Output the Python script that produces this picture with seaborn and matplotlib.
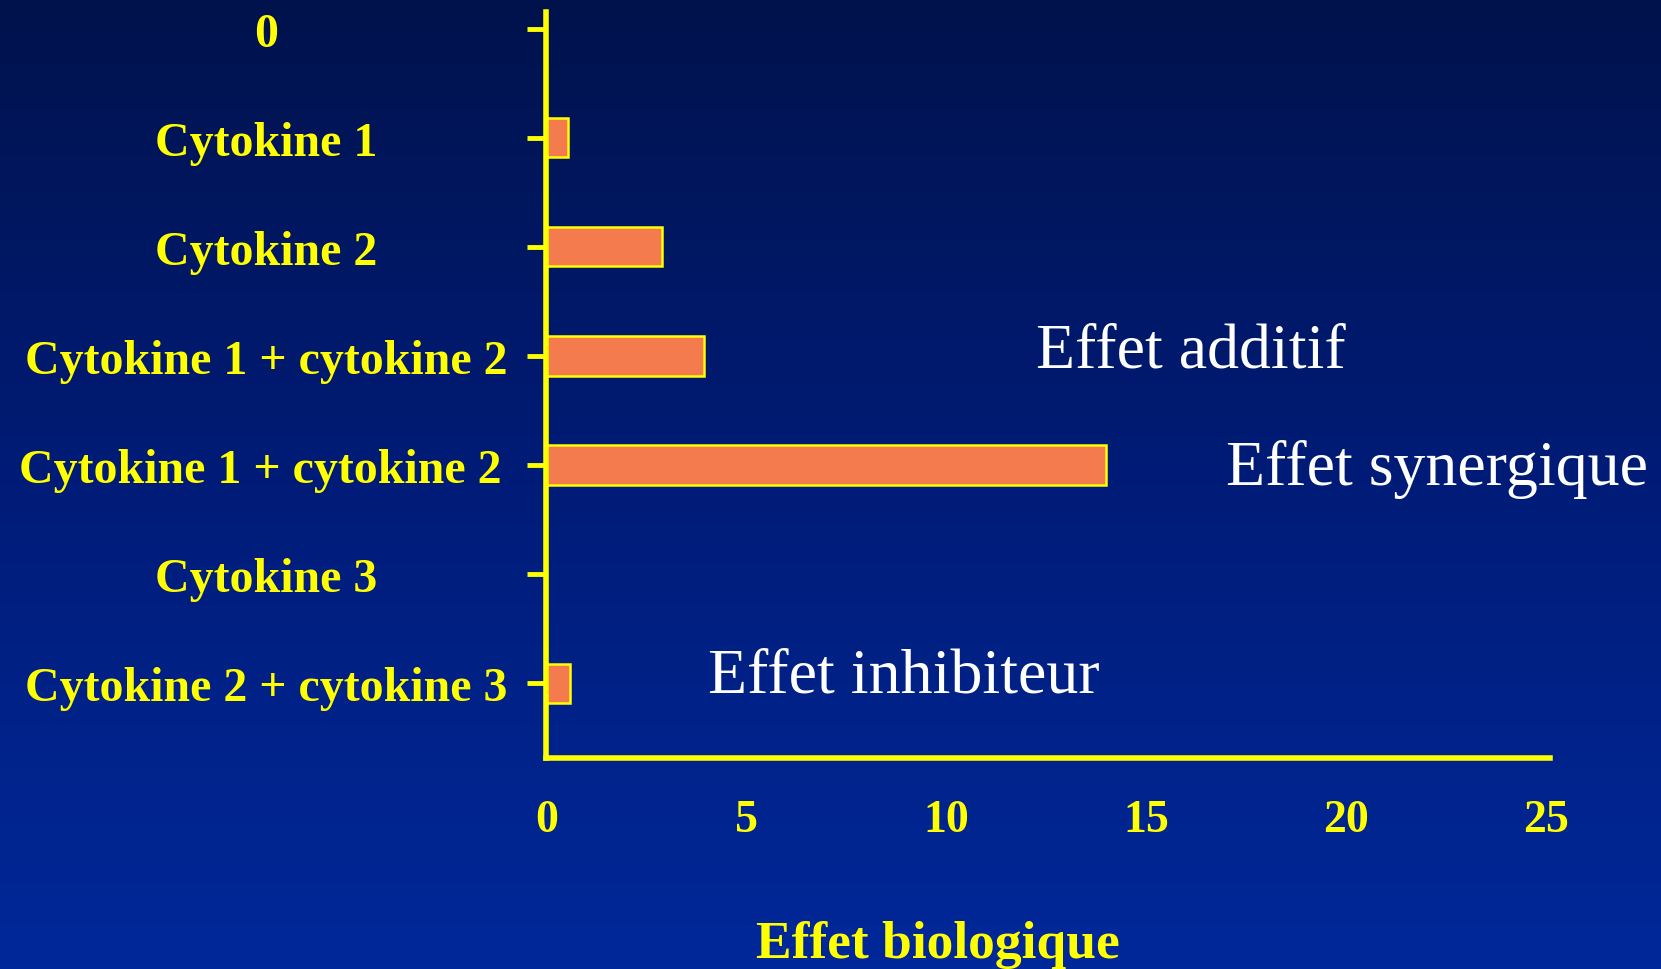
import numpy as np
import pandas as pd
import matplotlib
matplotlib.use("Agg")
import matplotlib.pyplot as plt
import seaborn as sns
from matplotlib.colors import LinearSegmentedColormap

# data
categories = ["0", "Cytokine 1", "Cytokine 2", "Cytokine 1 + cytokine 2",
              "Cytokine 1 + cytokine 2 ", "Cytokine 3", "Cytokine 2 + cytokine 3"]
effet = [0, 0.55, 2.9, 3.95, 14.0, 0, 0.6]
x_ticks = [0, 5, 10, 15, 20, 25]

data = pd.DataFrame({"condition": categories, "effet": effet})

sns.set_theme(style="white")
plt.rcParams["font.family"] = ["Liberation Serif", "DejaVu Serif"]

yellow = "#FFFF00"
orange = "#F47B4D"

fig = plt.figure(figsize=(16.61, 9.70), dpi=100)

# blue gradient background
bg = fig.add_axes([0, 0, 1, 1], zorder=-1)
grad = LinearSegmentedColormap.from_list("slide", ["#00124C", "#001C78", "#00289A"])
bg.imshow(np.linspace(0, 1, 256).reshape(-1, 1), aspect="auto", cmap=grad,
          extent=[0, 1, 0, 1], origin="upper")
bg.axis("off")

ax = fig.add_axes([0.329, 0.218, 0.604, 0.769])
ax.patch.set_alpha(0)

sns.barplot(data=data, x="effet", y="condition", orient="h", color=orange,
            width=0.36, saturation=1, edgecolor=yellow, linewidth=1.8, ax=ax)

ax.set_xlim(0, 25.1)
ax.set_ylim(6.68, -0.155)
ax.set_xticks(x_ticks)
ax.set_xticklabels([str(t) for t in x_ticks])

for side in ["top", "right"]:
    ax.spines[side].set_visible(False)
for side in ["left", "bottom"]:
    ax.spines[side].set_color(yellow)
    ax.spines[side].set_linewidth(4)

ax.tick_params(axis="x", bottom=False, length=0, pad=30, colors=yellow, labelsize=33)
ax.tick_params(axis="y", left=True, length=14, width=3.5, direction="out",
               colors=yellow, labelsize=34.5, pad=188)
for lab in ax.get_yticklabels():
    lab.set_horizontalalignment("center")
    lab.set_fontweight("bold")
for lab in ax.get_xticklabels():
    lab.set_fontweight("bold")

ax.set_ylabel("")
ax.set_xlabel("Effet biologique", color=yellow, fontsize=38.5, fontweight="bold")
ax.xaxis.set_label_coords(0.39, -0.218)

# commentary
ax.text(12.25, 2.96, "Effet additif", color="white", fontsize=46, va="center")
ax.text(17.0, 4.03, "Effet synergique", color="white", fontsize=46, va="center")
ax.text(4.05, 5.94, "Effet inhibiteur", color="white", fontsize=46, va="center")

fig.savefig("out.png", dpi=100)
